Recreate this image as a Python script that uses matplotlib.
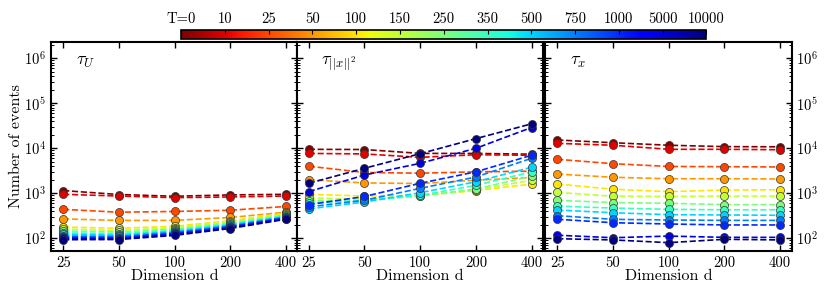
import numpy as np
import matplotlib
matplotlib.use('Agg')
import matplotlib.pyplot as plt
from matplotlib import ticker
from matplotlib.colors import Normalize
from matplotlib.colorbar import ColorbarBase

plt.rcParams['font.family'] = ['cmr10', 'DejaVu Serif']
plt.rcParams['mathtext.fontset'] = 'cm'
plt.rcParams['axes.formatter.use_mathtext'] = True

# temperatures (colour scale)
temps = ['T=0', '10', '25', '50', '100', '150', '250', '350', '500', '750', '1000', '5000', '10000']
dims = [25, 50, 100, 200, 400]

# Number of events, one row per temperature (T=0 ... T=10000)
tau_U = [
    [1150, 940, 860, 920, 950],
    [950, 870, 800, 830, 870],
    [440, 380, 395, 420, 510],
    [270, 250, 250, 290, 380],
    [178, 167, 185, 245, 360],
    [160, 150, 172, 230, 345],
    [145, 138, 160, 218, 330],
    [132, 127, 150, 208, 318],
    [122, 118, 142, 198, 305],
    [112, 110, 135, 188, 295],
    [105, 104, 128, 180, 285],
    [99, 98, 122, 172, 275],
    [93, 94, 116, 165, 265],
]

tau_x2 = [
    [9500, 9400, 7700, 7700, 7400],
    [7700, 7500, 6300, 7200, 7000],
    [4000, 2900, 2800, 3000, 3100],
    [2000, 1700, 1650, 1950, 2250],
    [950, 870, 900, 1150, 1600],
    [780, 750, 880, 1180, 1950],
    [680, 700, 870, 1250, 2400],
    [620, 680, 900, 1500, 3000],
    [450, 640, 1030, 1800, 3800],
    [500, 700, 1290, 2300, 6000],
    [560, 850, 1670, 3000, 7000],
    [1090, 2550, 4640, 10000, 29000],
    [1670, 3600, 7600, 16400, 35000],
]
# error at d=400 (only visible ones)
tau_x2_err400 = [0, 0, 0, 0, 0, 0, 0, 0, 0, 0, 0, 6000, 4000]

tau_x = [
    [15300, 13300, 11700, 10900, 10800],
    [12900, 11700, 9500, 9500, 9300],
    [5700, 4550, 3950, 3900, 3850],
    [2680, 2270, 2110, 2110, 2080],
    [1610, 1230, 1090, 1180, 1200],
    [1050, 860, 850, 860, 860],
    [700, 620, 600, 560, 560],
    [520, 470, 440, 430, 430],
    [425, 370, 335, 330, 325],
    [318, 264, 255, 250, 250],
    [265, 222, 208, 198, 198],
    [117, 103, 112, 105, 105],
    [98, 92, 80, 95, 92],
]

panels = [(tau_U, r'$\tau_U$'), (tau_x2, r'$\tau_{||x||^2}$'), (tau_x, r'$\tau_x$')]

cmap = plt.get_cmap('jet_r')
n = len(temps)
colors = [cmap(i / (n - 1)) for i in range(n)]

fig = plt.figure(figsize=(8.31, 2.94), dpi=100)
lefts = [0.0614, 0.357, 0.656]
width = 0.2966
bottom, height = 0.146, 0.711

for p, (data, name) in enumerate(panels):
    ax = fig.add_axes([lefts[p], bottom, width, height])
    for i in range(n):
        yerr = None
        if p == 1 and tau_x2_err400[i] > 0:
            yerr = [0, 0, 0, 0, tau_x2_err400[i]]
        ax.errorbar(dims, data[i], yerr=yerr, color=colors[i], ls='--', lw=1.2,
                    marker='o', ms=5.8, mfc=colors[i], mec='#333333', mew=0.5,
                    elinewidth=1.2, capsize=0, zorder=2 + i * 0.01)
    ax.set_xscale('log')
    ax.set_yscale('log')
    ax.set_xlim(21.5, 462)
    ax.set_ylim(52, 2.3e6)
    ax.xaxis.set_major_locator(ticker.FixedLocator(dims))
    ax.xaxis.set_major_formatter(ticker.FixedFormatter([str(d) for d in dims]))
    ax.xaxis.set_minor_locator(ticker.NullLocator())
    ax.yaxis.set_major_locator(ticker.LogLocator(base=10, numticks=10))
    ax.yaxis.set_minor_locator(ticker.LogLocator(base=10, subs=np.arange(2, 10), numticks=10))
    ax.yaxis.set_minor_formatter(ticker.NullFormatter())
    ax.tick_params(which='both', direction='in', top=True, right=True, labelsize=10.5)
    ax.tick_params(which='major', length=4, width=1)
    ax.tick_params(which='minor', length=2, width=0.7)
    ax.tick_params(axis='x', pad=4)
    if p == 0:
        ax.set_ylabel('Number of events', fontsize=11.5, labelpad=1)
    elif p == 1:
        ax.tick_params(labelleft=False)
    else:
        ax.tick_params(labelleft=False, labelright=True)
    for s in ax.spines.values():
        s.set_linewidth(1.5)
    ax.set_xlabel('Dimension d', fontsize=11.5, labelpad=-1)
    ax.text(0.1, 0.89, name, transform=ax.transAxes, fontsize=13)

# colour bar on top
cax = fig.add_axes([0.218, 0.867, 0.632, 0.031])
cb = ColorbarBase(cax, cmap=cmap, norm=Normalize(0, n - 1), orientation='horizontal',
                  ticklocation='top')
cb.set_ticks(range(n))
cb.set_ticklabels(temps)
cax.tick_params(labelsize=10.5, length=3, direction='in', pad=3)
cb.outline.set_linewidth(1.2)

fig.savefig('out.png', dpi=100)
